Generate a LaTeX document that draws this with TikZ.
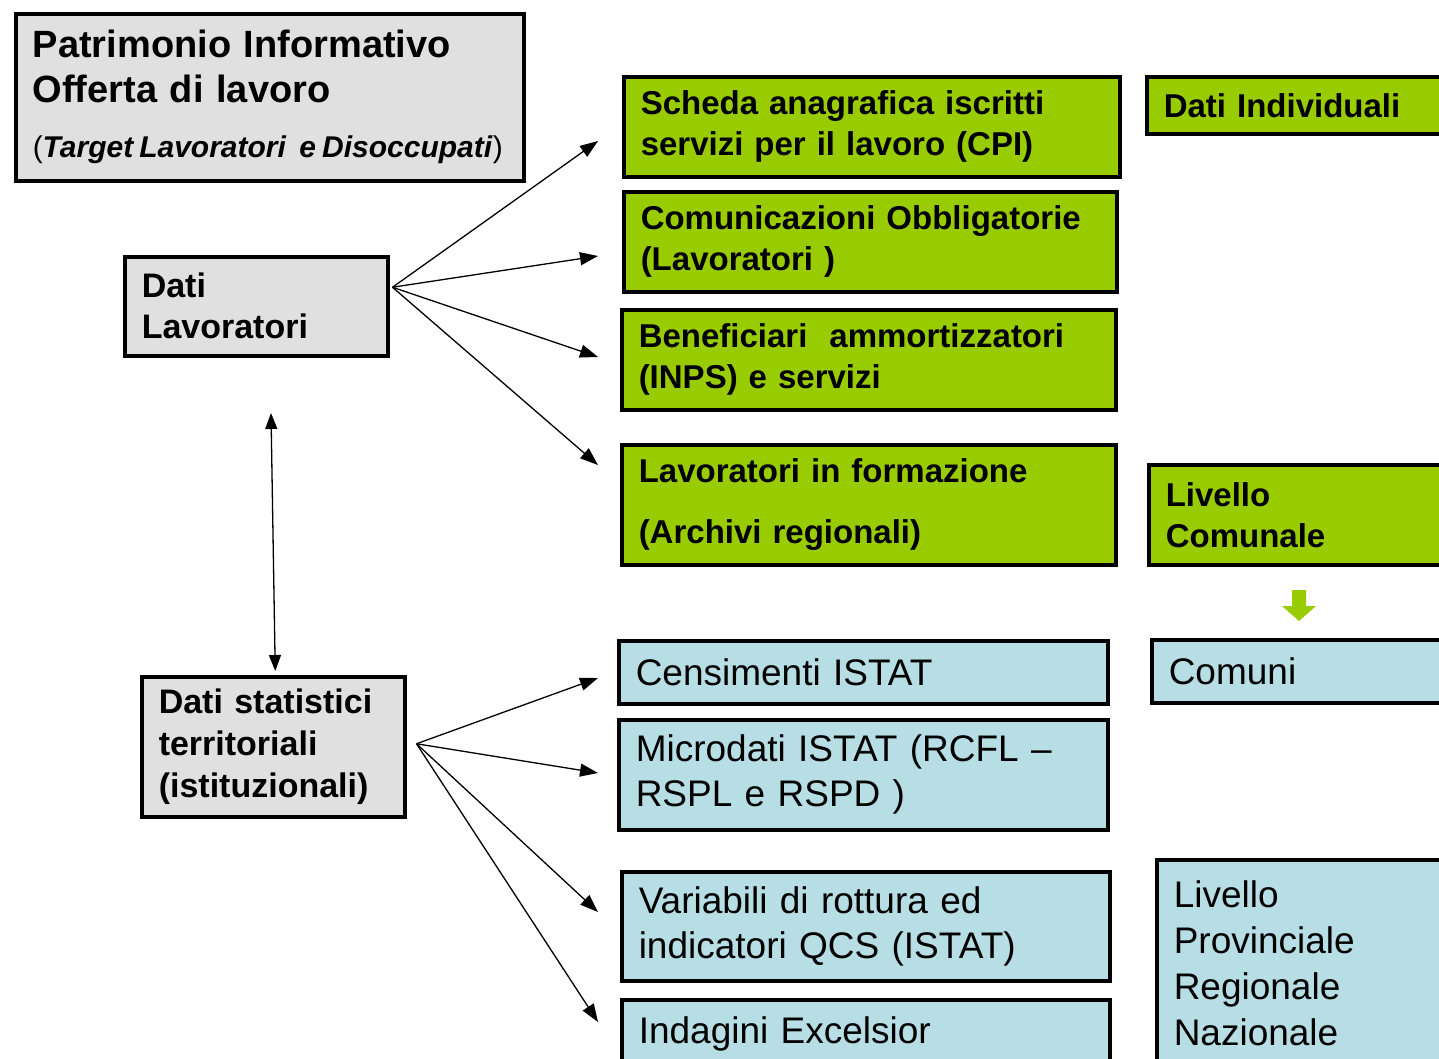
\documentclass[tikz,border=0pt]{standalone}
\usepackage{fontspec}
\setmainfont{Liberation Sans}
\usetikzlibrary{arrows.meta}
\definecolor{boxgray}{RGB}{224,224,224}
\definecolor{boxgreen}{RGB}{153,204,0}
\definecolor{boxblue}{RGB}{183,222,228}
\begin{document}
\begin{tikzpicture}[x=1pt,y=-1pt,
  box/.style={draw=black, line width=3.5pt, anchor=north west, inner xsep=17pt, inner ysep=0pt, align=left},
  graybox/.style={box, fill=boxgray},
  greenbox/.style={box, fill=boxgreen, font=\fontsize{33}{41}\selectfont\bfseries},
  bluebox/.style={box, fill=boxblue, font=\fontsize{37}{45}\selectfont},
  conn/.style={line width=1.3pt, -{Triangle[length=18pt,width=13pt]}},
  dconn/.style={line width=1.3pt, {Triangle[length=16pt,width=12pt]}-{Triangle[length=16pt,width=12pt]}}
]
\useasboundingbox (0,0) rectangle (1439,1058);
\clip (0,0) rectangle (1439,1058);
\fill[white] (0,0) rectangle (1439,1058);

% left column
\node[graybox, minimum width=508pt, minimum height=167pt, text width=474pt,
  font=\fontsize{38}{45}\selectfont\bfseries] (title) at (14,12)
  {Patrimonio Informativo\\Offerta di lavoro\\[10pt]%
   {\fontsize{30}{34}\selectfont\mdseries\spaceskip=0.2em(\textbf{\textit{Target Lavoratori\hspace{0.45em}e Disoccupati}})}};
\node[graybox, minimum width=263pt, minimum height=99pt, text width=229pt,
  font=\fontsize{34}{41}\selectfont\bfseries] (datilav) at (123,255) {Dati\\Lavoratori};
\node[graybox, minimum width=263pt, minimum height=140pt, text width=229pt,
  font=\fontsize{34}{42}\selectfont\bfseries] (datistat) at (140,675) {Dati statistici\\territoriali\\(istituzionali)};

% green boxes
\node[greenbox, minimum width=496pt, minimum height=100pt, text width=462pt] (g1) at (622,75)
  {Scheda anagrafica iscritti\\servizi per il lavoro (CPI)};
\node[greenbox, minimum width=493pt, minimum height=100pt, text width=459pt] (g2) at (622,190)
  {Comunicazioni Obbligatorie\\(Lavoratori )};
\node[greenbox, minimum width=494pt, minimum height=100pt, text width=460pt] (g3) at (620,308)
  {Beneficiari \ ammortizzatori\\(INPS) e servizi};
\node[greenbox, minimum width=494pt, minimum height=120pt, text width=460pt] (g4) at (620,443)
  {Lavoratori in formazione\\[20pt](Archivi regionali)};
\node[greenbox, minimum width=330pt, minimum height=57pt, text width=296pt] (g5) at (1145,75)
  {Dati Individuali};
\node[greenbox, minimum width=330pt, minimum height=100pt, text width=296pt] (g6) at (1147,463)
  {Livello\\Comunale};

% blue boxes
\node[bluebox, minimum width=489pt, minimum height=63pt, text width=455pt] (b1) at (617,639)
  {Censimenti ISTAT};
\node[bluebox, minimum width=489pt, minimum height=110pt, text width=455pt] (b2) at (617,718)
  {Microdati ISTAT (RCFL –\\RSPL e RSPD )};
\node[bluebox, minimum width=488pt, minimum height=109pt, text width=454pt] (b3) at (620,870)
  {Variabili di rottura ed\\indicatori QCS (ISTAT)};
\node[bluebox, minimum width=488pt, minimum height=68pt, text width=454pt] (b4) at (620,998)
  {Indagini Excelsior};
\node[bluebox, minimum width=330pt, minimum height=63pt, text width=296pt] (b5) at (1150,638)
  {Comuni};
\node[bluebox, minimum width=330pt, minimum height=208pt, text width=296pt, font=\fontsize{37}{46}\selectfont] (b6) at (1155,858)
  {Livello\\Provinciale\\Regionale\\Nazionale};

% green down arrow
\fill[boxgreen] (1292,590) -- (1306,590) -- (1306,606) -- (1316,606) -- (1299,621) -- (1282,606) -- (1292,606) -- cycle;

% connectors
\coordinate (dlo) at ([yshift=19pt,xshift=3pt]datilav.east);
\coordinate (dso) at ([yshift=3pt,xshift=10pt]datistat.east);
\coordinate (e1) at (598,141);
\coordinate (e2) at (598,256);
\coordinate (e3) at (598,357);
\coordinate (e4) at (598,465);
\coordinate (f1) at (598,678);
\coordinate (f2) at (598,773);
\coordinate (f3) at (598,912);
\coordinate (f4) at (598,1022);
\coordinate (vt) at (271,413);
\coordinate (vb) at ([xshift=2pt,yshift=4pt]datistat.north);

\draw[conn] (dlo) -- (e1);
\draw[conn] (dlo) -- (e2);
\draw[conn] (dlo) -- (e3);
\draw[conn] (dlo) -- (e4);
\draw[conn] (dso) -- (f1);
\draw[conn] (dso) -- (f2);
\draw[conn] (dso) -- (f3);
\draw[conn] (dso) -- (f4);
\draw[dconn] (vt) -- (vb);
\end{tikzpicture}
\end{document}
